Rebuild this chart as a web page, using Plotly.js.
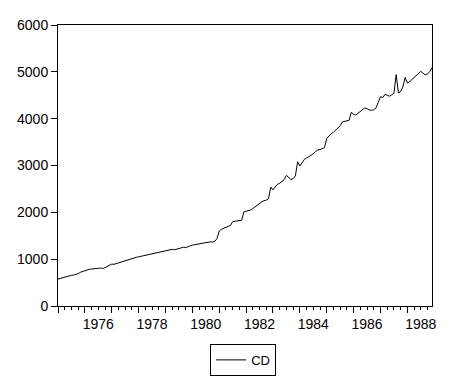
<!DOCTYPE html>
<html>
<head>
<meta charset="utf-8">
<script src="https://cdn.plot.ly/plotly-3.0.1.min.js"></script>
<style>html,body{margin:0;padding:0;background:#fff;}#chart{width:472px;height:384px;}</style>
</head>
<body>
<div id="chart"></div>
<script>
// Monthly series CD, 1975M01 - 1988M12
const startYear = 1975;
const seriesName = "CD";
const cd1975 = [575, 590, 600, 612, 625, 640, 655, 660, 670, 690, 720, 740];
const cd1976 = [755, 770, 785, 790, 800, 805, 805, 810, 800, 820, 840, 870];
const cd1977 = [895, 890, 905, 930, 950, 965, 980, 995, 1000, 1010, 1025, 1040];
const cd1978 = [1050, 1060, 1070, 1085, 1100, 1115, 1125, 1130, 1140, 1145, 1150, 1165];
const cd1979 = [1170, 1180, 1195, 1210, 1200, 1215, 1230, 1250, 1255, 1245, 1270, 1285];
const cd1980 = [1300, 1310, 1305, 1320, 1330, 1335, 1350, 1360, 1370, 1365, 1380, 1440];
const cd1981 = [1600, 1640, 1655, 1670, 1700, 1720, 1800, 1810, 1815, 1820, 1830, 2010];
const cd1982 = [2020, 2040, 2050, 2080, 2120, 2150, 2200, 2225, 2250, 2260, 2290, 2540];
const cd1983 = [2480, 2540, 2600, 2620, 2660, 2700, 2790, 2740, 2700, 2720, 2780, 3080];
const cd1984 = [2990, 3060, 3130, 3160, 3190, 3220, 3250, 3300, 3330, 3340, 3360, 3380];
const cd1985 = [3580, 3640, 3680, 3710, 3750, 3790, 3850, 3930, 3940, 3955, 3965, 4140];
const cd1986 = [4090, 4080, 4120, 4150, 4190, 4230, 4210, 4185, 4180, 4190, 4230, 4350];
const cd1987 = [4470, 4450, 4520, 4500, 4480, 4510, 4540, 4940, 4550, 4580, 4680, 4880];
const cd1988 = [4760, 4790, 4830, 4870, 4910, 4960, 5010, 4970, 4935, 4960, 5000, 5090];

const yTickVals = [0, 1000, 2000, 3000, 4000, 5000, 6000];
const xLabelYears = [1976, 1978, 1980, 1982, 1984, 1986, 1988];
const xMajorYears = [1975, 1976, 1977, 1978, 1979, 1980, 1981, 1982, 1983, 1984, 1985, 1986, 1987, 1988];

const values = [].concat(cd1975, cd1976, cd1977, cd1978, cd1979, cd1980, cd1981,
  cd1982, cd1983, cd1984, cd1985, cd1986, cd1987, cd1988);
const xs = values.map((v, i) => startYear + i / 12);
const xRange = [startYear, startYear + (values.length - 1) / 12];

const font = {family: "Liberation Sans, Arial, sans-serif", size: 14, color: "#000"};
const legendFont = {family: "Liberation Sans, Arial, sans-serif", size: 13, color: "#000"};

const traces = [
  {x: xs, y: values, type: "scatter", mode: "lines", name: seriesName,
   line: {color: "#000", width: 1}, xaxis: "x", yaxis: "y", showlegend: true},
  {x: [xRange[0]], y: [0], type: "scatter", mode: "markers", xaxis: "x2", yaxis: "y",
   marker: {opacity: 0}, showlegend: false, hoverinfo: "skip"}
];

const layout = {
  width: 472, height: 384,
  margin: {l: 58, r: 40, t: 25, b: 78, pad: 0, autoexpand: false},
  paper_bgcolor: "#fff", plot_bgcolor: "#fff",
  font: font,
  showlegend: true,
  legend: {x: 0.495, xanchor: "center", y: -0.135, yanchor: "top",
    orientation: "h", bordercolor: "#000", borderwidth: 1, bgcolor: "#fff",
    font: legendFont, itemwidth: 30, tracegroupgap: 0},
  xaxis: {
    range: xRange, showgrid: false, zeroline: false, automargin: false,
    showline: true, linecolor: "#000", linewidth: 1, mirror: true,
    tickmode: "array", tickvals: xMajorYears, showticklabels: false,
    ticks: "outside", ticklen: 6, tickcolor: "#000", tickwidth: 1,
    minor: {tickmode: "linear", tick0: startYear, dtick: 0.25, ticks: "outside",
      ticklen: 3, tickcolor: "#000", tickwidth: 1, showgrid: false}
  },
  xaxis2: {
    overlaying: "x", matches: "x", range: xRange, showgrid: false, zeroline: false,
    showline: false, tickmode: "array", automargin: false,
    tickvals: xLabelYears.map(y => y + 0.5), ticktext: xLabelYears.map(String),
    ticks: "outside", ticklen: 5, tickcolor: "rgba(0,0,0,0)", tickfont: font, side: "bottom"
  },
  yaxis: {
    range: [0, 6000], showgrid: false, zeroline: false, automargin: false,
    showline: true, linecolor: "#000", linewidth: 1, mirror: true,
    tickmode: "array", tickvals: yTickVals, ticks: "outside", ticklen: 6,
    tickcolor: "#000", tickwidth: 1, tickfont: font
  }
};

Plotly.newPlot("chart", traces, layout, {displayModeBar: false, staticPlot: true});
</script>
</body>
</html>
